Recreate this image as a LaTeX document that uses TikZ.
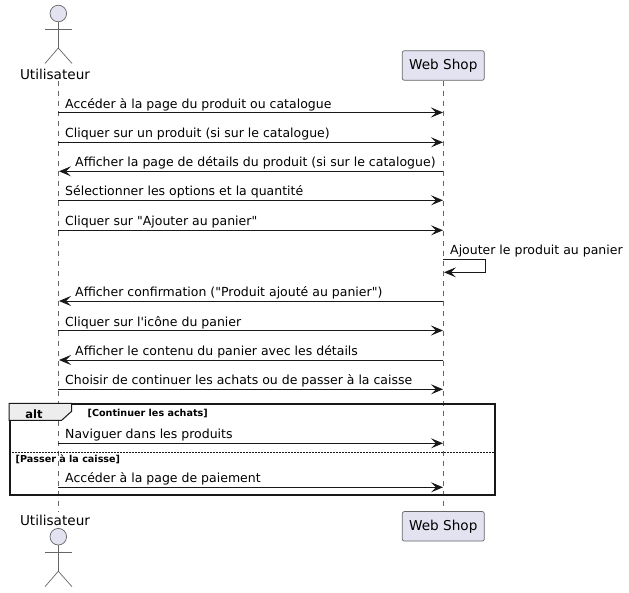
\documentclass[tikz,border=0pt]{standalone}
\usepackage{fontspec}
\defaultfontfeatures[\rmfamily]{}
\setmainfont{DejaVu Sans}
\usetikzlibrary{arrows.meta, positioning}

\definecolor{partfill}{HTML}{E2E2F0}
\definecolor{partline}{HTML}{181818}
\definecolor{lifegrey}{HTML}{666666}

\begin{document}
\begin{tikzpicture}[
		x=1pt, y=-1pt,
		>={Stealth[length=12pt, width=10pt, inset=5pt]},
		msg/.style={draw=partline, line width=0.9pt},
		msgtext/.style={font=\fontsize{12.5}{14}\selectfont, anchor=base west, inner sep=0pt, text=black},
		actorname/.style={font=\fontsize{13.6}{16}\selectfont, inner sep=0pt, text=black},
		shopbox/.style={draw=lifegrey, fill=partfill, rounded corners=2pt, line width=0.7pt, minimum width=82pt, minimum height=29.5pt, inner sep=0pt, font=\fontsize{13.6}{16}\selectfont},
		stick/.style={draw=lifegrey, line width=0.7pt},
		lifeline/.style={draw=lifegrey, line width=0.6pt, dash pattern=on 5pt off 5pt},
		guard/.style={font=\fontsize{9.6}{11}\bfseries\selectfont, anchor=base west, inner sep=0pt}
		]
		\useasboundingbox (0,0) rectangle (629,592);
		
		% ==========================================
		% LIFELINES
		% ==========================================
		\coordinate (lifeTop) at (58.3,81);
		\coordinate (lifeBot) at (58.3,512);
		\node[shopbox] (shopTop) at (443.3,65.5) {Web Shop};
		\node[shopbox] (shopBot) at (443.3,526.3) {Web Shop};
		\draw[lifeline] (lifeTop) -- (lifeBot);
		\draw[lifeline] (shopTop) -- (shopBot);
		
		% ==========================================
		% ACTORS
		% ==========================================
		\node[actorname] (userTop) at (55,74) {Utilisateur};
		\node[actorname] (userBot) at (55,520) {Utilisateur};
		
		\foreach \name/\yy in {headTop/13.5, headBot/536.7} {
			\node[circle, draw=lifegrey, fill=partfill, line width=0.7pt, minimum size=16.6pt, inner sep=0pt] (\name) at (58.3,\yy) {};
			\draw[stick] (\name.south) -- ++(0,26);
			\draw[stick] (45,\yy+15.5) -- (72,\yy+15.5);
			\draw[stick] (45,\yy+50) -- (58.3,\yy+34.5) -- (72,\yy+50);
		}
		
		% ==========================================
		% ALT FRAME
		% ==========================================
		\node[draw=partline, line width=2pt, minimum width=484.5pt, minimum height=91pt, inner sep=0pt] (altFrame) at (252.4,449.8) {};
		\draw[draw=partline, fill=black!7, line width=1pt] (altFrame.north west) -- ++(62.5,0) -- ++(0,8) -- ++(-10,9) -- ++(-52.5,0) -- cycle;
		\node[font=\fontsize{11.5}{13}\bfseries\selectfont, inner sep=0pt] (altTag) at (34,414) {alt};
		\node[guard] (guardOne) at (87.5,416.5) {[Continuer les achats]};
		\node[guard] (guardTwo) at (15.5,462.5) {[Passer à la caisse]};
		\coordinate (sepL) at (altFrame.west |- 0,452.3);
		\coordinate (sepR) at (altFrame.east |- 0,452.3);
		\draw[draw=partline, line width=0.7pt, dash pattern=on 1.5pt off 1.5pt] (sepL) -- (sepR);
		
		% ==========================================
		% MESSAGES
		% ==========================================
		\foreach \n/\yy/\txt in {
			1/112.5/{Accéder à la page du produit ou catalogue},
			2/142.3/{Cliquer sur un produit (si sur le catalogue)},
			4/200.3/{Sélectionner les options et la quantité},
			5/230.3/{Cliquer sur "Ajouter au panier"},
			8/330.5/{Cliquer sur l'icône du panier},
			10/389.3/{Choisir de continuer les achats ou de passer à la caisse},
			11/443.3/{Naviguer dans les produits},
			12/487.3/{Accéder à la page de paiement}} {
			\coordinate (u\n) at (58.3,\yy);
			\coordinate (w\n) at (443,\yy);
			\draw[msg, ->] (u\n) -- (w\n);
			\node[msgtext] (t\n) at (65,\yy-4.5) {\txt};
		}
		
		\foreach \n/\yy/\txt in {
			3/171.3/{Afficher la page de détails du produit (si sur le catalogue)},
			7/301/{Afficher confirmation ("Produit ajouté au panier")},
			9/360/{Afficher le contenu du panier avec les détails}} {
			\coordinate (u\n) at (59,\yy);
			\coordinate (w\n) at (443.3,\yy);
			\draw[msg, ->] (w\n) -- (u\n);
			\node[msgtext] (t\n) at (75,\yy-4.5) {\txt};
		}
		
		% self message
		\coordinate (selfA) at (443.3,259.3);
		\coordinate (selfB) at (444,272.3);
		\draw[msg, ->] (selfA) -- (485.7,259.3) -- (485.7,272.3) -- (selfB);
		\node[msgtext] (t6) at (450,254.8) {Ajouter le produit au panier};
		
	\end{tikzpicture}
\end{document}
